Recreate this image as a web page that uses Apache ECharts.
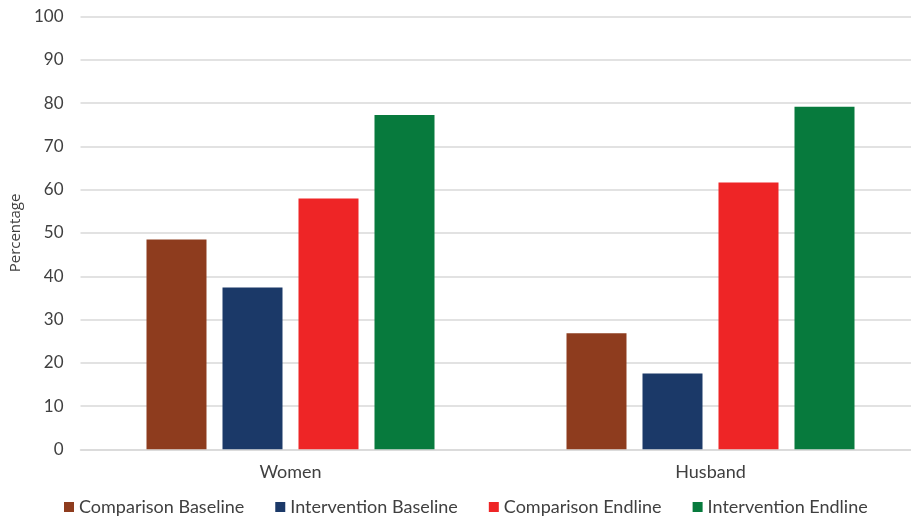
<!DOCTYPE html>
<html>
<head>
<meta charset="utf-8">
<script src="https://cdn.jsdelivr.net/npm/echarts@6/dist/echarts.min.js"></script>
<style>
html,body{margin:0;padding:0;background:#fff;}
#chart{width:911px;height:518px;}
</style>
</head>
<body>
<div id="chart"></div>
<script>
var categories = ["Women", "Husband"];
var seriesNames = ["Comparison Baseline", "Intervention Baseline", "Comparison Endline", "Intervention Endline"];
var comparisonBaseline = [48.5, 26.8];
var interventionBaseline = [37.4, 17.5];
var comparisonEndline = [58.0, 61.7];
var interventionEndline = [77.3, 79.2];
var yTicks = [0, 10, 20, 30, 40, 50, 60, 70, 80, 90, 100];

var colors = ["#8E3C1E", "#1B3968", "#EE2526", "#077A3D"];
var values = [comparisonBaseline, interventionBaseline, comparisonEndline, interventionEndline];
var font = "Lato, 'Open Sans', sans-serif";

var chart = echarts.init(document.getElementById('chart'));
chart.setOption({
  animation: false,
  backgroundColor: '#fff',
  textStyle: { fontFamily: font },
  legend: {
    bottom: -3,
    left: 59,
    itemWidth: 10,
    itemHeight: 10,
    itemGap: 31,
    icon: 'rect',
    textStyle: { fontSize: 18, color: '#404040', fontFamily: font },
    data: seriesNames
  },
  grid: { left: 80.5, top: 16.7, width: 840, height: 432.6, containLabel: false, outerBoundsMode: 'none' },
  xAxis: {
    type: 'category',
    data: categories,
    axisLine: { show: true, lineStyle: { color: '#d9d9d9', width: 1.5 } },
    axisTick: { show: false },
    axisLabel: { fontSize: 18, color: '#404040', margin: 14, fontFamily: font }
  },
  yAxis: {
    type: 'value',
    min: 0, max: 100, interval: 10,
    name: 'Percentage',
    nameLocation: 'middle',
    nameGap: 54,
    nameRotate: 90,
    nameTextStyle: { fontSize: 15, color: '#404040', fontFamily: "'Open Sans', sans-serif" },
    axisLine: { show: false },
    axisTick: { show: false },
    splitLine: { lineStyle: { color: '#d9d9d9', width: 1.5 } },
    axisLabel: { fontSize: 17, color: '#404040', margin: 17, fontFamily: font,
      formatter: function(v){ return yTicks.indexOf(v) >= 0 ? String(v) : ''; } }
  },
  series: seriesNames.map(function(n, i){
    return {
      name: n,
      type: 'bar',
      data: values[i],
      barWidth: 60,
      barGap: '26.67%',
      itemStyle: { color: colors[i] }
    };
  })
});
</script>
</body>
</html>
